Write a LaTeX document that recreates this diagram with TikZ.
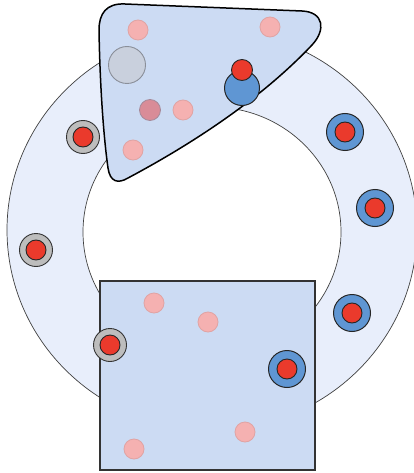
\documentclass[tikz,border=0pt]{standalone}
\usetikzlibrary{calc, backgrounds}

\definecolor{ringfill}{HTML}{E8EEFB}
\definecolor{partfill}{HTML}{CCDBF3}
\definecolor{pinkfill}{HTML}{F5B1B1}
\definecolor{pinkline}{HTML}{E0A3A3}
\definecolor{roseFill}{HTML}{D98C98}
\definecolor{roseline}{HTML}{A58A9A}
\definecolor{greyfill}{HTML}{C9D0DD}
\definecolor{greyline}{HTML}{8A8F99}
\definecolor{collarfill}{HTML}{BDBDBD}
\definecolor{redfill}{HTML}{EA3A2C}
\definecolor{bluefill}{HTML}{5F96D3}

\tikzset{
  pinkdot/.style={circle, inner sep=0pt, minimum size=20pt, fill=pinkfill, draw=pinkline, line width=0.8pt},
  rosedot/.style={circle, inner sep=0pt, minimum size=21pt, fill=roseFill, draw=roseline, line width=0.8pt},
  greydot/.style={circle, inner sep=0pt, minimum size=37pt, fill=greyfill, draw=greyline, line width=0.9pt},
  greycollar/.style={circle, inner sep=0pt, minimum size=33pt, fill=collarfill, draw=black!80, line width=0.9pt},
  bluecollar/.style={circle, inner sep=0pt, minimum size=37pt, fill=bluefill, draw=black!85, line width=1pt},
  reddot/.style={circle, inner sep=0pt, minimum size=20pt, fill=redfill, draw=black!85, line width=0.9pt}
}

\begin{document}
\begin{tikzpicture}[x=1pt, y=-1pt]
\useasboundingbox (0,0) rectangle (413,473);

% the ring
\fill[ringfill, draw=black!75, line width=0.7pt] (212,230) ellipse [x radius=205, y radius=200];
\fill[white, draw=black!75, line width=0.7pt] (212,232) ellipse [x radius=129, y radius=125];

% the square part
\draw[fill=partfill, draw=black!80, line width=1.5pt] (100,281) rectangle (315,470);

% the upper part
\draw[fill=partfill, line width=1.5pt]
  (99,30) .. controls (100,90) and (104,140) .. (108,168)
  .. controls (110,182) and (118,184) .. (128,178)
  .. controls (190,145) and (260,100) .. (312,45)
  .. controls (326,30) and (324,12) .. (302,11)
  -- (125,4)
  .. controls (106,3) and (99,14) .. (99,30) -- cycle;

% dots lying in the parts
\foreach \name/\x/\y in {p1/138/30, p2/270/27, p3/183/110, p4/133/150, p5/154/303, p6/208/322, p7/245/432, p8/134/449}
  \node[pinkdot] (\name) at (\x,\y) {};
\node[rosedot] (r1) at (150,110) {};
\node[greydot] (g1) at (127,65) {};

% dots on the ring, grey collars
\foreach \name/\x/\y in {c1/83/137, c2/36/250, c3/110/345}
{
  \node[greycollar] (\name) at (\x,\y) {};
  \node[reddot] (\name r) at (\x,\y) {};
}

% dots on the ring, blue collars
\foreach \name/\x/\y in {b1/345/132, b2/375/208, b3/352/313, b4/287/369}
{
  \node[bluecollar] (\name) at (\x,\y) {};
  \node[reddot] (\name r) at (\x,\y) {};
}

% the one on the upper part
\node[bluecollar, minimum size=35pt] (b5) at (242,88) {};
\node[reddot, minimum size=21pt] (b5r) at (242,70) {};

\end{tikzpicture}
\end{document}
